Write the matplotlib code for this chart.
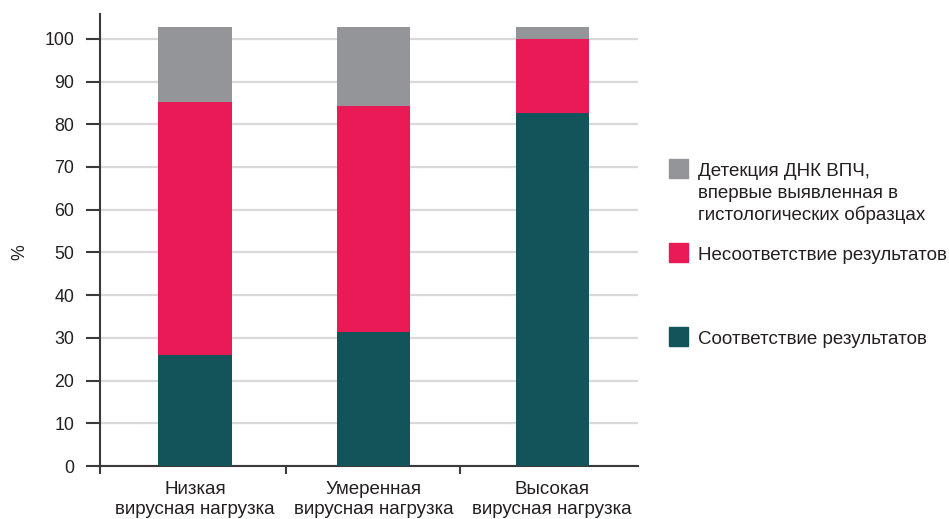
import matplotlib.pyplot as plt
from matplotlib.patches import Rectangle

plt.rcParams["font.family"] = ["Liberation Sans", "DejaVu Sans"]

categories = ["Низкая\nвирусная нагрузка", "Умеренная\nвирусная нагрузка", "Высокая\nвирусная нагрузка"]
match = [26.0, 31.3, 82.7]
mismatch = [59.3, 53.0, 17.3]
new_detect = [17.5, 18.5, 2.8]

series_labels = [
    "Детекция ДНК ВПЧ,\nвпервые выявленная в\nгистологических образцах",
    "Несоответствие результатов",
    "Соответствие результатов",
]
GRAY = "#949599"
RED = "#e91a56"
TEAL = "#13545a"
TEXT = "#231f20"
LABEL_SIZE = 13.5

fig = plt.figure(figsize=(9.49, 5.19), dpi=100)
ax = fig.add_axes([0.1054, 0.1021, 0.5669, 0.8709])

x = list(range(len(categories)))
width = 0.41
ax.bar(x, match, width, color=TEAL, zorder=3)
ax.bar(x, mismatch, width, bottom=match, color=RED, zorder=3)
bottom2 = [a + b for a, b in zip(match, mismatch)]
ax.bar(x, new_detect, width, bottom=bottom2, color=GRAY, zorder=3)

ax.set_xlim(-0.532, 2.48)
ax.set_ylim(0, 105.8)
ax.set_yticks(range(0, 101, 10))
ax.yaxis.grid(True, color="#d9d9d9", linewidth=1.6, zorder=0)
ax.set_axisbelow(True)

# category labels between separator ticks
ax.set_xticks([-0.532, 0.51, 1.485])
ax.set_xticklabels([])
for xi, label in zip(x, categories):
    ax.text(xi, -3.4, label, ha="center", va="top", fontsize=LABEL_SIZE,
            color=TEXT, linespacing=1.3, clip_on=False)

for side in ["top", "right"]:
    ax.spines[side].set_visible(False)
for side in ["left", "bottom"]:
    ax.spines[side].set_color("#3a3a3a")
    ax.spines[side].set_linewidth(1.5)

ax.tick_params(axis="y", length=10, width=1.5, color="#3a3a3a",
               labelsize=12.8, labelcolor=TEXT, pad=8.5)
ax.tick_params(axis="x", length=6, width=1.5, color="#3a3a3a")

fig.text(0.021, 0.515, "%", rotation=90, ha="center", va="center",
         fontsize=12.8, color=TEXT)

# legend drawn by hand on the right side, one text line at a time
legend_items = [
    (GRAY, series_labels[0], 168.5),
    (RED, series_labels[1], 252.5),
    (TEAL, series_labels[2], 336.0),
]
H = 519.0
W = 949.0
LINE_STEP = 21.5
for color, label, yc in legend_items:
    fig.patches.append(Rectangle((669 / W, 1 - (yc + 9.5) / H), 19 / W, 19 / H,
                                 transform=fig.transFigure, color=color))
    for i, line in enumerate(label.split("\n")):
        fig.text(698 / W, 1 - (yc + 8 + i * LINE_STEP) / H, line, ha="left",
                 va="baseline", fontsize=LABEL_SIZE, color=TEXT)

fig.savefig("out.png", dpi=100)
